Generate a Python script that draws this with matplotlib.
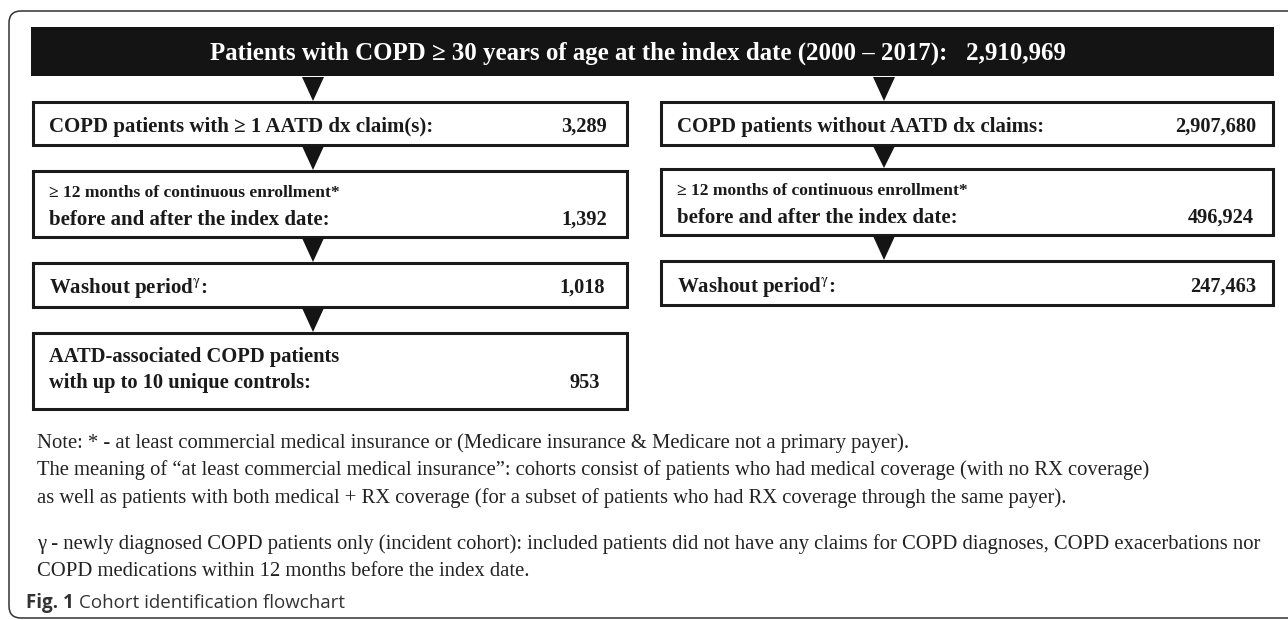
import matplotlib
matplotlib.use("Agg")
import matplotlib.pyplot as plt
from matplotlib.patches import Rectangle, FancyBboxPatch, Polygon

# ---- chart content ----
header_label = "Patients with COPD \u2265 30 years of age at the index date (2000 \u2013 2017):"
header_n = 2910969

left_labels = [
    ["COPD patients with \u2265 1 AATD dx claim(s):"],
    ["\u2265 12 months of continuous enrollment*", "before and after the index date:"],
    ["Washout period$^{\\mathrm{\\gamma}}$:"],
    ["AATD-associated COPD patients", "with up to 10 unique controls:"],
]
left_counts = [3289, 1392, 1018, 953]

right_labels = [
    ["COPD patients without AATD dx claims:"],
    ["\u2265 12 months of continuous enrollment*", "before and after the index date:"],
    ["Washout period$^{\\mathrm{\\gamma}}$:"],
]
right_counts = [2907680, 496924, 247463]

note_lines = [
    "Note: * - at least commercial medical insurance or (Medicare insurance & Medicare not a primary payer).",
    "The meaning of \u201cat least commercial medical insurance\u201d: cohorts consist of patients who had medical coverage (with no RX coverage)",
    "as well as patients with both medical + RX coverage (for a subset of patients who had RX coverage through the same payer).",
    "\u03b3 - newly diagnosed COPD patients only (incident cohort): included patients did not have any claims for COPD diagnoses, COPD exacerbations nor",
    "COPD medications within 12 months before the index date.",
]
caption_bold = "Fig. 1"
caption_text = "Cohort identification flowchart"

# ---- layout (pixels, y down) ----
W, H = 1288, 620
serif = ["Liberation Serif", "DejaVu Serif"]
plt.rcParams["mathtext.fontset"] = "stix"

left_x = (33, 627)
right_x = (661, 1273)
left_rows = [(102, 145), (171, 237), (263, 307), (333, 409)]
right_rows = [(102, 145), (169, 235), (261, 305)]
left_base = [[132], [197, 225], [293], [362, 388]]
right_base = [[132], [195, 223], [292]]
left_size = [[15], [12.6, 15], [15], [14.8, 14.8]]
right_size = [[15], [12.6, 15], [15]]
num_right = ([607, 607, 605, 600], [1256, 1254, 1256])
arrow_x = (313, 884)

fig = plt.figure(figsize=(W / 100, H / 100), dpi=100)
ax = fig.add_axes([0, 0, 1, 1])
ax.set_xlim(0, W)
ax.set_ylim(H, 0)
ax.axis("off")

# outer rounded frame (right side runs off the page, as in the source)
frame = FancyBboxPatch((9, 11), 1500, 607, boxstyle="round,pad=0,rounding_size=12",
                       fc="white", ec="#333333", lw=1.1)
ax.add_patch(frame)

# header bar
ax.add_patch(Rectangle((31, 27), 1274 - 31, 76 - 27, fc="#141414", ec="none"))
ax.text(638, 60, f"{header_label}   {header_n:,}", color="white", fontsize=17.9,
        fontweight="bold", family=serif, ha="center", va="baseline")


def arrow(x, top, bottom):
    ax.add_patch(Polygon([(x - 11, top + 1), (x + 11, top + 1), (x, bottom - 1)],
                         closed=True, fc="#141414", ec="none"))


def column(xs, rows, labels, counts, bases, sizes, nx, ax_x):
    prev_bottom = 76
    for i, (y0, y1) in enumerate(rows):
        arrow(ax_x, prev_bottom, y0)
        ax.add_patch(Rectangle((xs[0], y0), xs[1] - xs[0], y1 - y0, fc="white",
                               ec="#1a1a1a", lw=2.2, joinstyle="miter"))
        for lab, yb, fs in zip(labels[i], bases[i], sizes[i]):
            ax.text(xs[0] + 16, yb, lab, fontsize=fs, fontweight="bold", family=serif,
                    color="#1a1a1a", ha="left", va="baseline")
        ax.text(nx[i], bases[i][-1], f"{counts[i]:,}", fontsize=14.7, fontweight="bold",
                family=serif, color="#1a1a1a", ha="right", va="baseline")
        prev_bottom = y1


column(left_x, left_rows, left_labels, left_counts, left_base, left_size, num_right[0], arrow_x[0])
column(right_x, right_rows, right_labels, right_counts, right_base, right_size, num_right[1], arrow_x[1])

# notes
note_base = [448, 475, 503, 549, 576]
for line, yb in zip(note_lines, note_base):
    ax.text(37, yb, line, fontsize=14.85, family=serif, color="#222222",
            ha="left", va="baseline")

# caption
cap_font = ["Open Sans", "DejaVu Sans"]
cap = ax.text(26, 608, caption_bold, fontsize=13.5, fontweight="bold",
              family=cap_font, color="#333333", va="baseline")
fig.canvas.draw()
bb = cap.get_window_extent(fig.canvas.get_renderer())
ax.text(26 + bb.width + 5, 608, caption_text, fontsize=13.5,
        family=cap_font, color="#333333", va="baseline")

fig.savefig("out.png", dpi=100)
